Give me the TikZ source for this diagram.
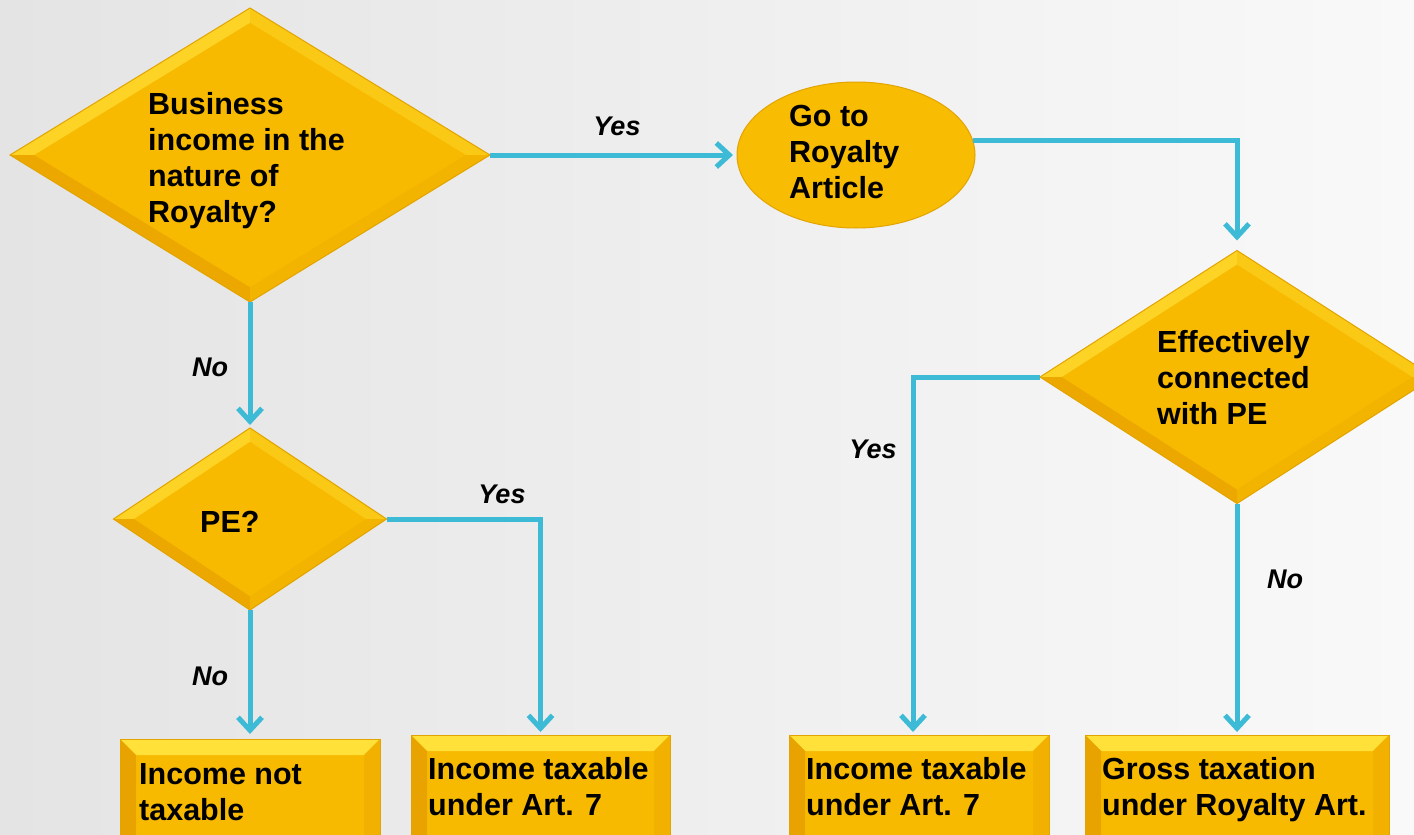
\documentclass[tikz,border=0pt]{standalone}
\usepackage{fontspec}
\setmainfont{Liberation Sans}
\usetikzlibrary{shapes.geometric,arrows.meta,calc}

\definecolor{bgleft}{HTML}{E4E4E4}
\definecolor{bgright}{HTML}{F9F9F9}
\definecolor{gold}{HTML}{F7BA00}
\definecolor{goldedge}{HTML}{E2A400}
\definecolor{facetTL}{HTML}{FDD426}
\definecolor{facetTR}{HTML}{FAC916}
\definecolor{facetBL}{HTML}{EDA800}
\definecolor{facetBR}{HTML}{F3B400}
\definecolor{boxtop}{HTML}{FFE13A}
\definecolor{boxleft}{HTML}{E9A300}
\definecolor{boxright}{HTML}{F2B000}
\definecolor{ovalin}{HTML}{F8BC02}
\definecolor{ovalout}{HTML}{E6A400}
\definecolor{flow}{HTML}{3DBBD6}

% gold oval with a slightly darker rim
\pgfdeclareradialshading{ovalshade}{\pgfpoint{0bp}{0bp}}{%
  color(0bp)=(ovalin); color(38bp)=(ovalin); color(47bp)=(ovalout); color(50bp)=(ovalout)}

% bevelled facets of a diamond node: #1 node name, #2 inner scale
\newcommand\bevdiamond[2]{%
  \fill[facetTL] (#1.west) -- (#1.north) -- ($(#1.center)!#2!(#1.north)$) -- ($(#1.center)!#2!(#1.west)$) -- cycle;
  \fill[facetTR] (#1.north) -- (#1.east) -- ($(#1.center)!#2!(#1.east)$) -- ($(#1.center)!#2!(#1.north)$) -- cycle;
  \fill[facetBR] (#1.east) -- (#1.south) -- ($(#1.center)!#2!(#1.south)$) -- ($(#1.center)!#2!(#1.east)$) -- cycle;
  \fill[facetBL] (#1.south) -- (#1.west) -- ($(#1.center)!#2!(#1.west)$) -- ($(#1.center)!#2!(#1.south)$) -- cycle;
  \draw[goldedge, line width=1pt] (#1.west) -- (#1.north) -- (#1.east) -- (#1.south) -- cycle;
}
% bevelled edges of a box node: #1 node name
\newcommand\bevbox[1]{%
  \fill[boxtop] (#1.north west) -- (#1.north east) -- ($(#1.north east)+(-16,16)$) -- ($(#1.north west)+(16,16)$) -- cycle;
  \fill[boxleft] (#1.north west) -- ($(#1.north west)+(16,16)$) -- ($(#1.south west)+(16,0)$) -- (#1.south west) -- cycle;
  \fill[boxright] (#1.north east) -- ($(#1.north east)+(-16,16)$) -- ($(#1.south east)+(-16,0)$) -- (#1.south east) -- cycle;
  \draw[goldedge, line width=1pt] (#1.south west) -- (#1.north west) -- (#1.north east) -- (#1.south east);
}

\begin{document}
\begin{tikzpicture}[x=1pt, y=-1pt,
  decision/.style={diamond, fill=gold, inner sep=0pt, outer sep=0pt},
  endbox/.style={rectangle, fill=gold, inner sep=0pt, outer sep=0pt, minimum height=140pt, anchor=north},
  txt/.style={font=\fontsize{30.5}{36}\selectfont\bfseries, align=left, inner sep=0pt, anchor=base west},
  answer/.style={font=\fontsize{27}{32}\selectfont\bfseries\itshape, inner sep=0pt, anchor=base},
  conn/.style={draw=flow, line width=5pt, line join=miter,
    -{Straight Barb[length=13pt, width=24pt]}}]

\clip (0,0) rectangle (1414,835);
\shade[left color=bgleft, right color=bgright] (0,0) rectangle (1414,835);

% decisions
\node[decision, minimum width=480pt, minimum height=294pt] (q1) at (250,155) {};
\bevdiamond{q1}{0.9}
\node[decision, minimum width=273pt, minimum height=182pt] (q3) at (250,519) {};
\bevdiamond{q3}{0.85}
\node[decision, minimum width=394pt, minimum height=253pt] (q2) at (1237,377) {};
\bevdiamond{q2}{0.89}

% royalty article
\node[ellipse, minimum width=238pt, minimum height=146pt, inner sep=0pt, outer sep=0pt,
  shading=ovalshade, draw=goldedge, line width=1pt] (goto) at (856,155) {};

% outcomes
\node[endbox, minimum width=260pt] (b1) at (250,739) {};
\bevbox{b1}
\node[endbox, minimum width=259pt] (b2) at (540.5,735) {};
\bevbox{b2}
\node[endbox, minimum width=260pt] (b3) at (919,735) {};
\bevbox{b3}
\node[endbox, minimum width=304pt] (b4) at (1237,735) {};
\bevbox{b4}

% texts (anchored at the baseline of the last line)
\node[txt] (t1) at (148,222) {Business\\income in the\\nature of\\Royalty?};
\node[txt] (t2) at (789,198) {Go to\\Royalty\\Article};
\node[txt] (t3) at (1157,424) {Effectively\\connected\\with PE};
\node[txt] (t4) at (200,532) {PE?};
\node[txt] (t5) at (139,820) {Income not\\taxable};
\node[txt] (t6) at (428,815) {Income taxable\\under Art. 7};
\node[txt] (t7) at (806,815) {Income taxable\\under Art. 7};
\node[txt] (t8) at (1102,815) {Gross taxation\\under Royalty Art.};

% connectors
\draw[conn, shorten >=4pt] (q1.east) -- (goto.west);
\draw[conn, shorten >=10pt] (goto.7) -| (q2.north);
\draw[conn, shorten >=3pt] (q1.south) -- (q3.north);
\draw[conn, shorten >=3pt] (q3.east) -| (b2.north);
\draw[conn, shorten >=5pt] (q3.south) -- (b1.north);
\draw[conn, shorten >=3pt] (q2.west) -| ([xshift=-6pt]b3.north);
\draw[conn, shorten >=3pt] (q2.south) -- (b4.north);

% answers
\node[answer] (a1) at (617,135) {Yes};
\node[answer] (a2) at (210,376) {No};
\node[answer] (a3) at (502,503) {Yes};
\node[answer] (a4) at (210,685) {No};
\node[answer] (a5) at (873,458) {Yes};
\node[answer] (a6) at (1285,588) {No};
\end{tikzpicture}
\end{document}
